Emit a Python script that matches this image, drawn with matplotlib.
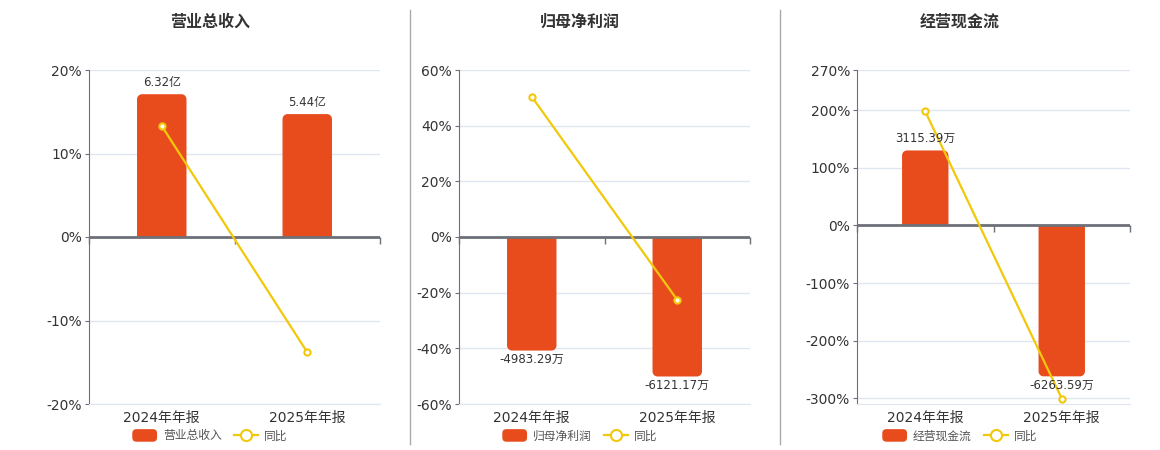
import matplotlib
matplotlib.use("Agg")
import matplotlib.pyplot as plt
from matplotlib.path import Path
from matplotlib.patches import PathPatch, Patch, FancyBboxPatch
from matplotlib.lines import Line2D
from matplotlib.legend_handler import HandlerPatch

plt.rcParams["font.family"] = ["DejaVu Sans", "Noto Sans CJK SC"]

# ---- data
periods = ["2024年年报", "2025年年报"]
titles = ["营业总收入", "归母净利润", "经营现金流"]

revenue = [6.32, 5.44]            # 亿
revenue_labels = ["6.32亿", "5.44亿"]
revenue_yoy = [13.3, -13.8]       # %

profit = [-4983.29, -6121.17]     # 万
profit_labels = ["-4983.29万", "-6121.17万"]
profit_yoy = [50.4, -22.6]

cashflow = [3115.39, -6263.59]    # 万
cashflow_labels = ["3115.39万", "-6263.59万"]
cashflow_yoy = [198.0, -300.5]

# percent-axis ranges and ticks per panel
pct_limits = [(-20, 20), (-60, 60), (-310, 270)]
pct_ticks = [[-20, -10, 0, 10, 20],
             [-60, -40, -20, 0, 20, 40, 60],
             [-300, -200, -100, 0, 100, 200, 270]]
# bar value that sits at 1% on the percent axis (keeps zero aligned)
bar_per_pct = [6.32 / 17.1, 4983.29 / 40.8, 3115.39 / 130.3]

BAR = "#E84C1D"
LINE = "#F2C80A"
AXIS = "#6E7079"
GRID = "#E0E6F1"
TEXT = "#333333"

W, H = 1160, 450
fig = plt.figure(figsize=(W / 100, H / 100), dpi=100)

# axes boxes in pixels: left, top, right, bottom
boxes = [(89, 70, 380, 404), (459, 70, 750, 404), (857, 70, 1130, 404)]
title_x = [210, 580, 960]


def rounded_bar(ax, x, width, height, r_px, color):
    """Bar with rounded corners on the far (non-zero) end."""
    bb = ax.get_window_extent()
    x0, x1 = ax.get_xlim()
    y0, y1 = ax.get_ylim()
    rx = r_px * (x1 - x0) / bb.width
    ry = r_px * (y1 - y0) / bb.height
    s = 1 if height >= 0 else -1
    ry = min(ry, abs(height) / 2) * s
    k = 0.5523
    L, R, T = x - width / 2, x + width / 2, height
    verts = [(L, 0), (L, T - ry), (L, T - ry + k * ry), (L + rx - k * rx, T),
             (L + rx, T), (R - rx, T), (R - rx + k * rx, T), (R, T - ry + k * ry),
             (R, T - ry), (R, 0), (L, 0)]
    codes = [Path.MOVETO, Path.LINETO, Path.CURVE4, Path.CURVE4, Path.CURVE4,
             Path.LINETO, Path.CURVE4, Path.CURVE4, Path.CURVE4, Path.LINETO,
             Path.CLOSEPOLY]
    ax.add_patch(PathPatch(Path(verts, codes), facecolor=color,
                           edgecolor="none", zorder=2))


class RoundPatchHandler(HandlerPatch):
    def create_artists(self, legend, orig_handle, xdescent, ydescent,
                       width, height, fontsize, trans):
        p = FancyBboxPatch((-xdescent, -ydescent - 1), width, height + 2,
                           boxstyle="round,pad=0,rounding_size=3",
                           facecolor=orig_handle.get_facecolor(),
                           edgecolor="none", transform=trans)
        return [p]


panels = [
    (revenue, revenue_labels, revenue_yoy),
    (profit, profit_labels, profit_yoy),
    (cashflow, cashflow_labels, cashflow_yoy),
]

xs = list(range(len(periods)))
bounds = [k - 0.5 for k in range(len(periods) + 1)]
for i, (vals, labels, yoy) in enumerate(panels):
    l, t, r, b = boxes[i]
    ax = fig.add_axes([l / W, 1 - b / H, (r - l) / W, (b - t) / H])
    ymin, ymax = pct_limits[i]
    ax.set_xlim(-0.5, len(periods) - 0.5)
    ax.set_ylim(ymin, ymax)

    # bars live on a twin scale, zero aligned with the percent axis
    bx = ax.twinx()
    bx.set_ylim(ymin * bar_per_pct[i], ymax * bar_per_pct[i])
    bx.set_xlim(ax.get_xlim())
    bx.axis("off")

    for x, v, lab in zip(xs, vals, labels):
        rounded_bar(bx, x, 0.34, v, 5, BAR)
        off = 4 if v >= 0 else -2
        bx.annotate(lab, (x, v), xytext=(0, off), textcoords="offset points",
                    ha="center", va="bottom" if v >= 0 else "top",
                    fontsize=8.5, color=TEXT, zorder=5)

    # zero baseline with category-boundary ticks
    bx.axhline(0, color=AXIS, lw=2, zorder=3)
    bx.plot(bounds, [0] * len(bounds), ls="none", marker=3, ms=5,
            mew=1, color=AXIS, zorder=3, clip_on=False)

    # yoy line on the percent scale, drawn above the bars
    bx.plot(xs, yoy, color=LINE, lw=1.6, marker="o", ms=4.5,
            mfc="white", mec=LINE, mew=1.5, zorder=4,
            transform=ax.transData)

    # grid and axes styling
    ax.set_yticks(pct_ticks[i])
    ax.set_yticklabels([f"{v}%" for v in pct_ticks[i]])
    ax.grid(axis="y", color=GRID, lw=1)
    ax.set_axisbelow(True)
    for side in ["top", "right"]:
        ax.spines[side].set_visible(False)
    ax.spines["bottom"].set_color(GRID)
    ax.spines["left"].set_color(AXIS)
    ax.tick_params(axis="y", length=3, color=AXIS, labelsize=10,
                   labelcolor=TEXT, pad=2)
    ax.set_xticks(xs)
    ax.set_xticklabels(periods)
    ax.tick_params(axis="x", length=0, labelsize=10, labelcolor=TEXT, pad=5)

    # title and legend
    fig.text(title_x[i] / W, 1 - 22 / H, titles[i], ha="center", va="center",
             fontsize=11.5, fontweight="bold", color=TEXT,
             family=["Noto Sans CJK SC", "DejaVu Sans"])
    handles = [Patch(facecolor=BAR, edgecolor="none", label=titles[i]),
               Line2D([], [], color=LINE, lw=1.6, marker="o", ms=8,
                      mfc="white", mec=LINE, mew=1.5, label="同比")]
    fig.legend(handles=handles, loc="center",
               bbox_to_anchor=(title_x[i] / W, 1 - 436 / H), ncol=2,
               frameon=False, fontsize=8.5, handlelength=2.1,
               handleheight=0.9, columnspacing=1.0, handletextpad=0.5,
               labelcolor="#555555",
               handler_map={Patch: RoundPatchHandler()})

# panel separators
for sep in [410, 780]:
    fig.add_artist(Line2D([sep / W, sep / W], [1 - 10 / H, 1 - 444 / H],
                          color="#AAAAAA", lw=1))

fig.savefig("out.png", dpi=100)
